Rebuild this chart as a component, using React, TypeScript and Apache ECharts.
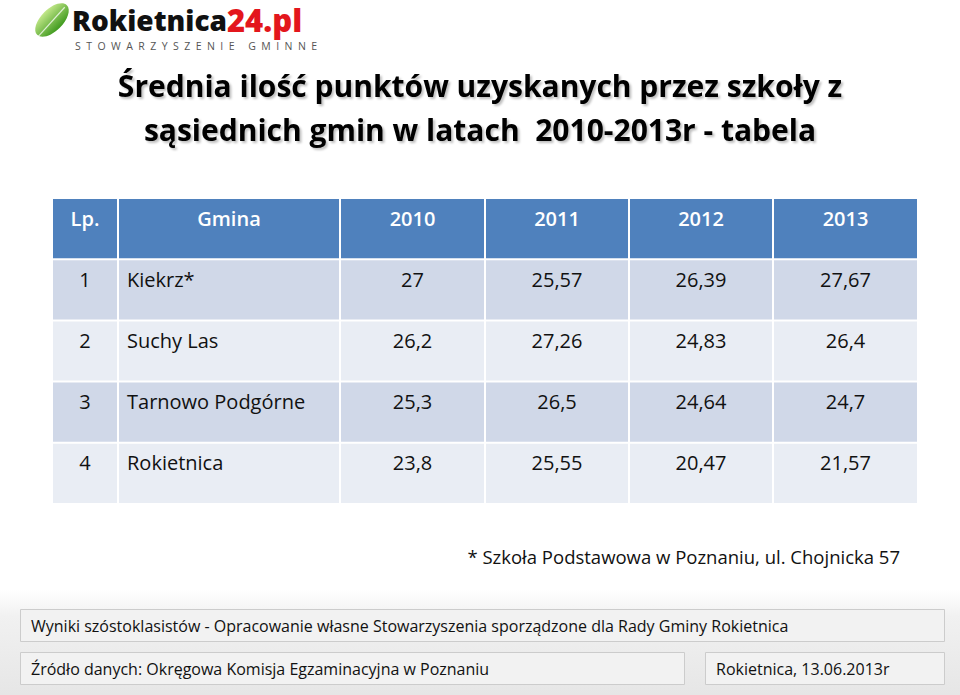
import React, { useEffect, useRef } from "react";
import * as echarts from "echarts";

const columns = ["Lp.", "Gmina", "2010", "2011", "2012", "2013"];
const lp = ["1", "2", "3", "4"];
const gminy = ["Kiekrz*", "Suchy Las", "Tarnowo Podgórne", "Rokietnica"];
const v2010 = [27, 26.2, 25.3, 23.8];
const v2011 = [25.57, 27.26, 26.5, 25.55];
const v2012 = [26.39, 24.83, 24.64, 20.47];
const v2013 = [27.67, 26.4, 24.7, 21.57];
const rowKeys = ["header", "r1", "r2", "r3", "r4"];

const titleText = "Średnia ilość punktów uzyskanych przez szkoły z\nsąsiednich gmin w latach  2010-2013r - tabela";
const footnote = "* Szkoła Podstawowa w Poznaniu, ul. Chojnicka 57";
const footer1 = "Wyniki szóstoklasistów - Opracowanie własne Stowarzyszenia sporządzone dla Rady Gminy Rokietnica";
const footer2 = "Źródło danych: Okręgowa Komisja Egzaminacyjna w Poznaniu";
const footer3 = "Rokietnica, 13.06.2013r";
const logoMain = "Rokietnica";
const logoRed = "24.pl";
const logoSub = "STOWARZYSZENIE GMINNE";

const FONT = "'Open Sans', 'Noto Sans', sans-serif";
const colEdges = [0, 66, 288, 433, 577, 721, 866];
const HEADER = "#4F81BD";
const ODD = "#D0D8E8";
const EVEN = "#E9EDF4";

const fmt = (v: number) => String(v).replace(".", ",");
const spaced = (s: string) =>
  s.split(" ").map((w) => w.split("").join("  ")).join("     ");

function buildCells() {
  const cells: any[] = [];
  columns.forEach((c, ci) => cells.push({ value: [ci, 0], text: c, header: true }));
  const yearCols = [v2010, v2011, v2012, v2013];
  gminy.forEach((g, ri) => {
    const r = ri + 1;
    cells.push({ value: [0, r], text: lp[ri] });
    cells.push({ value: [1, r], text: g, left: true });
    yearCols.forEach((arr, yi) => cells.push({ value: [2 + yi, r], text: fmt(arr[ri]) }));
  });
  return cells;
}

export default function App() {
  const ref = useRef<HTMLDivElement>(null);
  useEffect(() => {
    if (!ref.current) return;
    const chart = echarts.init(ref.current, null, { renderer: "svg" });
    const cells = buildCells();
    chart.setOption({
      animation: false,
      backgroundColor: "#ffffff",
      title: {
        text: titleText,
        left: "center",
        top: 58,
        textStyle: {
          fontFamily: FONT,
          fontWeight: "bold",
          fontSize: 30,
          lineHeight: 44,
          color: "#000",
          textShadowColor: "rgba(0,0,0,0.25)",
          textShadowOffsetX: 2,
          textShadowOffsetY: 2,
          textShadowBlur: 2,
        },
      },
      grid: { left: 52, top: 198, width: 866, height: 306 },
      xAxis: { type: "category", data: columns, show: false },
      yAxis: { type: "category", data: rowKeys, inverse: true, show: false },
      series: [
        {
          type: "custom",
          data: cells,
          renderItem: (params: any, api: any) => {
            const ci = api.value(0);
            const ri = api.value(1);
            const cs = params.coordSys;
            const cell = cells[params.dataIndex];
            const [, cy] = api.coord([ci, ri]);
            const h = api.size([1, 1])[1];
            const top = cy - h / 2;
            const x0 = cs.x + colEdges[ci];
            const w = colEdges[ci + 1] - colEdges[ci];
            const fill = ri === 0 ? HEADER : ri % 2 === 1 ? ODD : EVEN;
            return {
              type: "group",
              children: [
                {
                  type: "rect",
                  shape: { x: x0 + 1, y: top + 1, width: w - 2, height: h - 2 },
                  style: { fill },
                },
                {
                  type: "text",
                  x: cell.left ? x0 + 9 : x0 + w / 2,
                  y: top + 20,
                  style: {
                    text: cell.text,
                    fill: cell.header ? "#ffffff" : "#111111",
                    font: `${cell.header ? "600 " : ""}20px ${FONT}`,
                    align: cell.left ? "left" : "center",
                    verticalAlign: "middle",
                  },
                },
              ],
            };
          },
        },
      ],
      graphic: [
        {
          type: "rect",
          shape: { x: 0, y: 590, width: 960, height: 105 },
          style: {
            fill: new echarts.graphic.LinearGradient(0, 0, 0, 1, [
              { offset: 0, color: "#ffffff" },
              { offset: 0.25, color: "#f1f1f1" },
              { offset: 1, color: "#e6e6e6" },
            ]),
          },
          z: -1,
        },
        {
          type: "group",
          x: 52,
          y: 20,
          rotation: Math.PI / 4,
          children: [
            {
              type: "ellipse",
              shape: { cx: 0, cy: 0, rx: 21, ry: 11 },
              style: {
                fill: new echarts.graphic.LinearGradient(0, 0, 0, 1, [
                  { offset: 0, color: "#c3e88a" },
                  { offset: 1, color: "#3f9a1e" },
                ]),
              },
            },
            {
              type: "line",
              shape: { x1: -22, y1: 2, x2: 18, y2: 0 },
              style: { stroke: "rgba(255,255,255,0.75)", lineWidth: 1.2 },
            },
          ],
        },
        {
          type: "text",
          x: 72,
          y: 20,
          style: {
            text: `{a|${logoMain}}{b|${logoRed}}`,
            verticalAlign: "middle",
            rich: {
              a: { font: `800 28px ${FONT}`, fill: "#111111", color: "#111111", lineHeight: 30 },
              b: { font: `800 31px ${FONT}`, fill: "#e3161c", color: "#e3161c", lineHeight: 30 },
            },
          },
        },
        {
          type: "text",
          x: 75,
          y: 46,
          style: {
            text: spaced(logoSub),
            font: `10.5px ${FONT}`,
            fill: "#555555",
            verticalAlign: "middle",
          },
        },
        {
          type: "text",
          x: 900,
          y: 556,
          style: {
            text: footnote,
            font: `18.5px ${FONT}`,
            fill: "#111111",
            align: "right",
            verticalAlign: "middle",
          },
        },
        {
          type: "rect",
          shape: { x: 20.5, y: 609.5, width: 924, height: 32 },
          style: { fill: "#f2f2f2", stroke: "#cccccc", lineWidth: 1 },
        },
        {
          type: "text",
          x: 31,
          y: 626,
          style: { text: footer1, font: `16px ${FONT}`, fill: "#111111", verticalAlign: "middle" },
        },
        {
          type: "rect",
          shape: { x: 20.5, y: 652.5, width: 664, height: 32 },
          style: { fill: "#f2f2f2", stroke: "#cccccc", lineWidth: 1 },
        },
        {
          type: "text",
          x: 31,
          y: 669,
          style: { text: footer2, font: `16px ${FONT}`, fill: "#111111", verticalAlign: "middle" },
        },
        {
          type: "rect",
          shape: { x: 705.5, y: 652.5, width: 239, height: 32 },
          style: { fill: "#f2f2f2", stroke: "#cccccc", lineWidth: 1 },
        },
        {
          type: "text",
          x: 716,
          y: 669,
          style: { text: footer3, font: `16px ${FONT}`, fill: "#111111", verticalAlign: "middle" },
        },
      ],
    });
    return () => chart.dispose();
  }, []);
  return (
    <div
      ref={ref}
      style={{ position: "fixed", left: 0, top: 0, width: 960, height: 695 }}
    />
  );
}
